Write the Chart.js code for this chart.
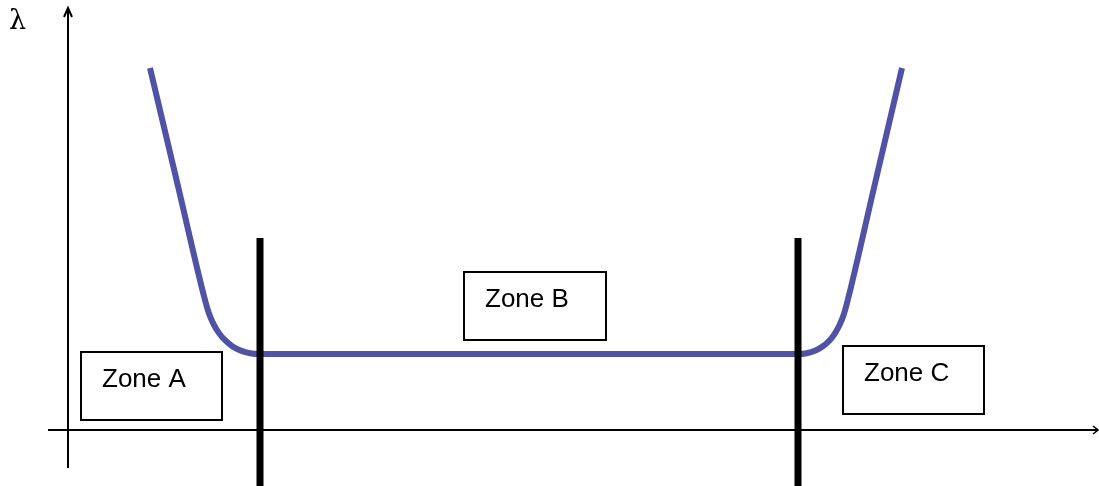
<!DOCTYPE html>
<html>
<head>
<meta charset="utf-8">
<script src="https://cdn.jsdelivr.net/npm/chart.js@4/dist/chart.umd.min.js"></script>
<style>
  body { margin: 0; background: #fff; }
  canvas { display: block; }
</style>
</head>
<body>
<canvas id="bathtub" width="1099" height="486"></canvas>
<script>
// time (x) and failure rate lambda (y)
const timeValues = [
  8.2, 10.95, 13.7, 14.07, 14.53, 15.08, 15.73, 16.46, 17.28, 18.2, 19.2,
  73.0, 73.89, 74.69, 75.42, 76.08, 76.65, 77.14, 77.56, 77.9, 80.65, 83.4,
];
const lambdaValues = [
  90.5, 61.5, 32.5, 29.33, 26.6, 24.28, 22.38, 20.9, 19.85, 19.2, 19.0,
  19.0, 19.2, 19.8, 20.8, 22.19, 23.98, 26.18, 28.75, 31.75, 61.1, 90.5,
];

// zone boundaries (thick black lines)
const zoneBoundaries = [19.2, 73.0];
const boundaryTop = 48;
const boundaryBottom = -15;

// zone labels and their boxes [xMin, xMax, yTop, yBottom]
const zoneLabels = ["Zone A", "Zone B", "Zone C"];
const zoneBoxes = [
  [1.3, 15.4, 19.5, 2.5],
  [39.6, 53.8, 39.5, 22.5],
  [77.5, 91.6, 21.0, 4.0],
];

const axisLabel = "\u03bb";

//plugin for the arrow axes, the lambda label and the zone boxes
const sketchPlugin = {
  id: "sketch",
  beforeDatasetsDraw(chart) {
    const { ctx, chartArea, scales } = chart;
    const x = scales.x, y = scales.y;
    const ox = x.getPixelForValue(0);
    const oy = y.getPixelForValue(0);
    ctx.save();
    ctx.strokeStyle = "#000";
    ctx.lineWidth = 2;

    // y axis with arrow
    const topTip = chartArea.top - 22;
    ctx.beginPath();
    ctx.moveTo(ox, oy + 38);
    ctx.lineTo(ox, topTip);
    ctx.stroke();
    ctx.beginPath();
    ctx.moveTo(ox - 4, topTip + 9);
    ctx.lineTo(ox, topTip);
    ctx.lineTo(ox + 4, topTip + 9);
    ctx.stroke();

    // x axis with arrow
    const rightTip = chartArea.right + 30;
    ctx.beginPath();
    ctx.moveTo(ox - 20, oy);
    ctx.lineTo(rightTip, oy);
    ctx.stroke();
    ctx.lineWidth = 1.5;
    ctx.beginPath();
    ctx.moveTo(rightTip - 5, oy - 4);
    ctx.lineTo(rightTip, oy);
    ctx.lineTo(rightTip - 5, oy + 4);
    ctx.stroke();

    // lambda label
    ctx.fillStyle = "#000";
    ctx.font = "27px 'DejaVu Serif', serif";
    ctx.textAlign = "left";
    ctx.textBaseline = "alphabetic";
    ctx.fillText(axisLabel, 9, 29);

    // zone boxes
    ctx.lineWidth = 2;
    ctx.font = "26px 'Liberation Sans', Arial, sans-serif";
    zoneBoxes.forEach((b, i) => {
      const left = x.getPixelForValue(b[0]);
      const right = x.getPixelForValue(b[1]);
      const top = y.getPixelForValue(b[2]);
      const bottom = y.getPixelForValue(b[3]);
      ctx.fillStyle = "#fff";
      ctx.fillRect(left, top, right - left, bottom - top);
      ctx.strokeRect(left, top, right - left, bottom - top);
      ctx.fillStyle = "#000";
      ctx.fillText(zoneLabels[i], left + 21, top + 35);
    });
    ctx.restore();
  },
};

const curve = timeValues.map((t, i) => ({ x: t, y: lambdaValues[i] }));

const boundarySets = zoneBoundaries.map((b) => ({
  data: [{ x: b, y: boundaryTop }, { x: b, y: boundaryBottom }],
  showLine: true,
  borderColor: "#000",
  borderWidth: 7,
  borderCapStyle: "butt",
  pointRadius: 0,
  clip: false,
  order: 0,
}));

new Chart(document.getElementById("bathtub"), {
  type: "scatter",
  data: {
    datasets: [
      ...boundarySets,
      {
        data: curve,
        showLine: true,
        borderColor: "#5052A5",
        borderWidth: 6,
        borderJoinStyle: "round",
        pointRadius: 0,
        cubicInterpolationMode: "monotone",
        clip: false,
        order: 1,
      },
    ],
  },
  options: {
    responsive: false,
    animation: false,
    layout: { padding: { left: 68, right: 31, top: 30, bottom: 56 } },
    plugins: { legend: { display: false }, tooltip: { enabled: false } },
    scales: {
      x: { type: "linear", min: 0, max: 100, display: false },
      y: { type: "linear", min: 0, max: 100, display: false },
    },
  },
  plugins: [sketchPlugin],
});
</script>
</body>
</html>
